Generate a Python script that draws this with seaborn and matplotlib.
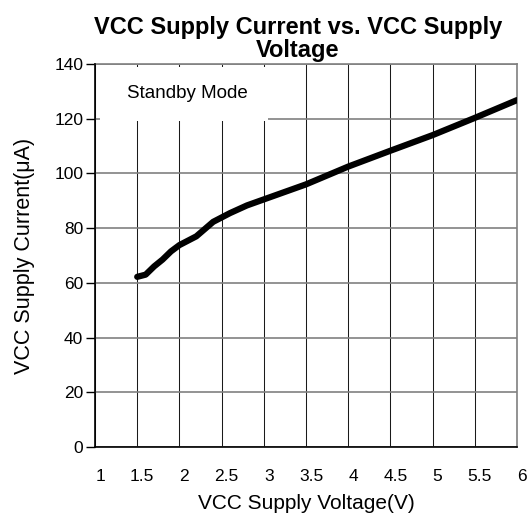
import matplotlib
matplotlib.use("Agg")
import matplotlib.pyplot as plt
import matplotlib.transforms as mtransforms
import seaborn as sns
import pandas as pd
from matplotlib.patches import Rectangle

voltage = [1.5, 1.6, 1.7, 1.8, 1.9, 2.0, 2.2, 2.4, 2.6, 2.8, 3.0, 3.5, 4.0, 4.5, 5.0, 5.5, 6.0]
current = [62.2, 63.0, 66.0, 68.5, 71.5, 73.8, 77.0, 82.3, 85.5, 88.3, 90.5, 96.0, 102.5, 108.3, 114.0, 120.3, 126.8]
x_ticks = [1, 1.5, 2, 2.5, 3, 3.5, 4, 4.5, 5, 5.5, 6]
x_tick_labels = ["1", "1.5", "2", "2.5", "3", "3.5", "4", "4.5", "5", "5.5", "6"]
y_ticks = [0, 20, 40, 60, 80, 100, 120, 140]

title = "VCC Supply Current vs. VCC Supply\nVoltage"
x_label = "VCC Supply Voltage(V)"
y_label = "VCC Supply Current(μA)"
note = "Standby Mode"

sns.set_theme(style="white")
plt.rcParams["font.family"] = ["Liberation Sans", "DejaVu Sans"]

df = pd.DataFrame({"v": voltage, "i": current})

fig = plt.figure(figsize=(5.32, 5.22), dpi=100)
ax = fig.add_axes([0.1786, 0.1437, 0.7932, 0.7337])

sns.lineplot(data=df, x="v", y="i", ax=ax, color="black", linewidth=4.5,
             solid_capstyle="round", solid_joinstyle="round", zorder=5)

ax.set_xlim(1, 6)
ax.set_ylim(0, 140)
ax.set_xticks(x_ticks)
ax.set_xticklabels(x_tick_labels)
ax.set_yticks(y_ticks)

for xv in x_ticks:
    ax.axvline(xv, color="#1a1a1a", linewidth=0.75, zorder=1)
for yv in y_ticks:
    ax.axhline(yv, color="#808080", linewidth=1.2, zorder=1)

ax.add_patch(Rectangle((0.012, 0.851), 0.398, 0.141, transform=ax.transAxes,
                       facecolor="white", edgecolor="none", zorder=2))
ax.text(0.218, 0.924, note, transform=ax.transAxes, ha="center", va="center",
        fontsize=13.5, color="black", zorder=3)

for side in ["top", "right"]:
    ax.spines[side].set_color("#808080")
    ax.spines[side].set_linewidth(1.2)
for side in ["left", "bottom"]:
    ax.spines[side].set_color("black")
    ax.spines[side].set_linewidth(1.2)
    ax.spines[side].set_zorder(6)

ax.tick_params(axis="y", which="both", left=True, length=6.5, width=1, color="black",
               labelsize=12.5, pad=2, labelcolor="black")
ax.tick_params(axis="x", which="both", bottom=False, labelsize=12.5, pad=10,
               labelcolor="black")

shift = mtransforms.ScaledTranslation(5 / 100, 0, fig.dpi_scale_trans)
for lab in ax.get_xticklabels():
    lab.set_transform(lab.get_transform() + shift)

ax.set_xlabel(x_label, fontsize=15, color="black", labelpad=7)
ax.set_ylabel(y_label, fontsize=15.5, color="black", labelpad=14)
ax.set_title(title, fontsize=17, fontweight="bold", color="black", x=0.481, pad=5,
             linespacing=1.0)

fig.savefig("out.png", dpi=100)
